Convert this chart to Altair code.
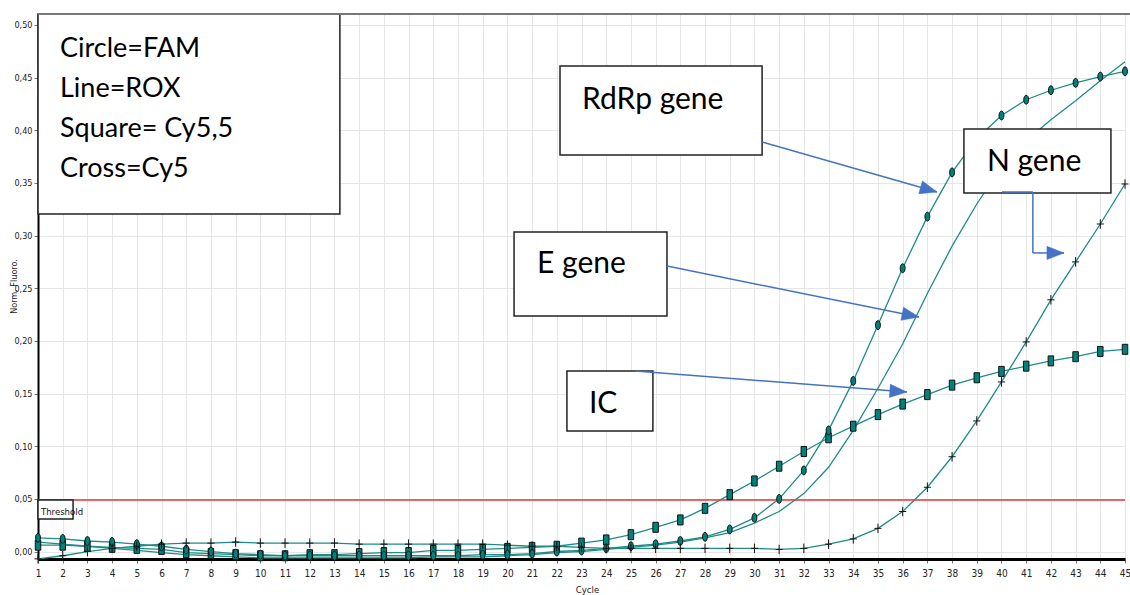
import altair as alt
import pandas as pd

# ---------------- data ----------------
cycles = list(range(1, 46))

fam_circle = [0.013, 0.012, 0.010, 0.009, 0.007, 0.005, 0.002, 0.000, -0.002, -0.003,
              -0.004, -0.004, -0.004, -0.004, -0.004, -0.004, -0.004, -0.004, -0.003, -0.003,
              -0.002, 0.000, 0.001, 0.003, 0.005, 0.007, 0.010, 0.014, 0.021, 0.032,
              0.050, 0.077, 0.115, 0.162, 0.215, 0.269, 0.318, 0.360, 0.392, 0.414,
              0.429, 0.438, 0.445, 0.451, 0.456]

rox_line = [0.009, 0.007, 0.005, 0.003, 0.001, -0.001, -0.003, -0.004, -0.005, -0.006,
            -0.006, -0.006, -0.006, -0.006, -0.006, -0.006, -0.005, -0.005, -0.005, -0.004,
            -0.003, -0.001, 0.000, 0.002, 0.004, 0.006, 0.009, 0.013, 0.018, 0.027,
            0.038, 0.055, 0.080, 0.115, 0.155, 0.197, 0.245, 0.290, 0.330, 0.365,
            0.390, 0.410, 0.428, 0.447, 0.465]

cy55_square = [0.006, 0.006, 0.005, 0.004, 0.003, 0.002, -0.001, -0.002, -0.003, -0.004,
               -0.004, -0.003, -0.003, -0.002, -0.001, -0.001, 0.001, 0.001, 0.002, 0.003,
               0.004, 0.005, 0.008, 0.011, 0.016, 0.023, 0.030, 0.041, 0.054, 0.067,
               0.081, 0.095, 0.108, 0.119, 0.130, 0.140, 0.149, 0.158, 0.165, 0.171,
               0.176, 0.181, 0.185, 0.190, 0.192]

cy5_cross = [-0.007, -0.004, 0.000, 0.003, 0.005, 0.007, 0.008, 0.008, 0.009, 0.008,
             0.008, 0.008, 0.008, 0.007, 0.007, 0.007, 0.007, 0.007, 0.007, 0.006,
             0.005, 0.005, 0.004, 0.003, 0.003, 0.003, 0.003, 0.003, 0.003, 0.003,
             0.002, 0.003, 0.007, 0.012, 0.022, 0.038, 0.061, 0.090, 0.124, 0.161,
             0.199, 0.239, 0.275, 0.311, 0.349]

threshold = [0.049]
y_ticks = [0.0, 0.05, 0.10, 0.15, 0.20, 0.25, 0.30, 0.35, 0.40, 0.45, 0.50]

legend_lines = ["Circle=FAM", "Line=ROX", "Square= Cy5,5", "Cross=Cy5"]
legend_cycle = [1.89, 1.89, 1.89, 1.89]
legend_value = [0.4696, 0.4316, 0.3936, 0.3556]
legend_box = {"x1": [1.0], "x2": [13.22], "y1": [0.5104], "y2": [0.3205]}

gene_labels = ["RdRp gene", "E gene", "IC", "N gene"]
label_cycle = [23.02, 21.20, 23.30, 39.41]
label_value = [0.4202, 0.2645, 0.1315, 0.3613]
box_x1 = [22.13, 20.27, 22.41, 38.48]
box_x2 = [30.31, 26.46, 25.89, 44.43]
box_y1 = [0.4610, 0.3034, 0.1714, 0.4012]
box_y2 = [0.3765, 0.2237, 0.1145, 0.3404]

seg_x1 = [30.31, 26.46, 25.17, 40.02, 41.27, 41.27]
seg_y1 = [0.3889, 0.2711, 0.1714, 0.3414, 0.3414, 0.2835]
seg_x2 = [37.39, 36.66, 36.17, 41.27, 41.27, 42.53]
seg_y2 = [0.3414, 0.2227, 0.1515, 0.3414, 0.2835, 0.2835]
head_x = [37.39, 36.66, 36.17, 42.53]
head_y = [0.3414, 0.2227, 0.1515, 0.2835]
head_angle = [16, 11, 4, 0]

thr_box = {"x1": [1.0], "x2": [2.42], "y1": [0.0489], "y2": [0.0309]}
thr_text = {"t": ["Threshold"], "x": [1.12], "y": [0.0347]}

# ---------------- styles ----------------
W, H = 1087, 545
TEAL_LINE = "#1f8c86"
TEAL_FILL = "#00817b"
BLUE = "#4472C4"
NARROW = "Liberation Sans Narrow, DejaVu Sans Condensed, Arial Narrow, sans-serif"
BOXFONT = "Lato, Carlito, Calibri, sans-serif"

xs = alt.Scale(domain=[1, 45], nice=False, zero=False)
ys = alt.Scale(domain=[-0.0071, 0.5104], nice=False, zero=False)

x_axis = alt.Axis(values=cycles, grid=True, gridColor="#e6e6e6", gridWidth=1,
                  domainColor="#000000", domainWidth=3, tickColor="#777777", tickSize=4,
                  labelFont=NARROW, labelFontSize=10, labelColor="#222222", labelPadding=5,
                  labelFlush=False, labelOverlap=False, format="d",
                  title="Cycle", titleFont=NARROW, titleFontSize=9.5,
                  titleFontWeight="normal", titleColor="#222222", titleY=33,
                  titleX=549, titleBaseline="alphabetic")
y_axis = alt.Axis(values=y_ticks, grid=True, gridColor="#e6e6e6", gridWidth=1,
                  domainColor="#000000", domainWidth=2, tickColor="#777777", tickSize=4,
                  labelFont=NARROW, labelFontSize=9, labelColor="#222222", labelPadding=2,
                  labelOverlap=False,
                  labelExpr="replace(format(datum.value, '.2f'), '.', ',')",
                  title="Norm. Fluoro.", titleFont=NARROW, titleFontSize=9,
                  titleFontWeight="normal", titleColor="#222222", titleAngle=-90,
                  titleX=-25, titleY=272, titleAlign="center", titleBaseline="middle")


def X(field):
    return alt.X(field, type="quantitative", scale=xs, axis=x_axis)


def Y(field):
    return alt.Y(field, type="quantitative", scale=ys, axis=y_axis)


series = pd.DataFrame({
    "cycle": cycles * 4,
    "value": fam_circle + rox_line + cy55_square + cy5_cross,
    "series": ["FAM"] * 45 + ["ROX"] * 45 + ["Cy5,5"] * 45 + ["Cy5"] * 45,
})

lines = alt.Chart(series).mark_line(color=TEAL_LINE, strokeWidth=1.3).encode(
    x=X("cycle"), y=Y("value"), detail="series:N",
)

thr = alt.Chart(pd.DataFrame({"t": threshold})).mark_rule(color="#e2393c", strokeWidth=1.5).encode(
    y=Y("t"), x=alt.value(0), x2=alt.value(W)
)

ELLIPSE = "M0,-1A0.55,1,0,1,1,0,1A0.55,1,0,1,1,0,-1Z"
RECT = "M-0.55,-1H0.55V1H-0.55Z"
PLUS = "M-0.75,0H0.75M0,-1V1"


def markers(name, shape, size, filled):
    d = series[series["series"] == name]
    if filled:
        mk = alt.Chart(d).mark_point(shape=shape, size=size, filled=True, fill=TEAL_FILL,
                                     stroke="#111111", strokeWidth=1, opacity=1)
    else:
        mk = alt.Chart(d).mark_point(shape=shape, size=size, filled=False,
                                     stroke="#111111", strokeWidth=1, opacity=1)
    return mk.encode(x=X("cycle"), y=Y("value"))


m_fam = markers("FAM", ELLIPSE, 80, True)
m_sq = markers("Cy5,5", RECT, 100, True)
m_cr = markers("Cy5", PLUS, 90, False)


def boxes(d, fill="white"):
    return alt.Chart(pd.DataFrame(d)).mark_rect(fill=fill, stroke="#222222", strokeWidth=1.5).encode(
        x=X("x1"), x2="x2:Q", y=Y("y1"), y2="y2:Q"
    )


legend_rect = boxes(legend_box)
gene_rects = boxes({"x1": box_x1, "x2": box_x2, "y1": box_y1, "y2": box_y2})
thr_rect = boxes(thr_box)

legend_text = alt.Chart(pd.DataFrame({"t": legend_lines, "x": legend_cycle, "y": legend_value})).mark_text(
    font=BOXFONT, fontSize=27, align="left", baseline="alphabetic", color="#000000"
).encode(x=X("x"), y=Y("y"), text="t:N")

gene_text = alt.Chart(pd.DataFrame({"t": gene_labels, "x": label_cycle, "y": label_value})).mark_text(
    font=BOXFONT, fontSize=30, align="left", baseline="alphabetic", color="#000000"
).encode(x=X("x"), y=Y("y"), text="t:N")

thr_label = alt.Chart(pd.DataFrame(thr_text)).mark_text(
    font=NARROW, fontSize=9.5, align="left", baseline="alphabetic", color="#111111"
).encode(x=X("x"), y=Y("y"), text="t:N")

arrows = alt.Chart(pd.DataFrame({"x1": seg_x1, "y1": seg_y1, "x2": seg_x2, "y2": seg_y2})).mark_rule(
    color=BLUE, strokeWidth=1.5
).encode(x=X("x1"), y=Y("y1"), x2="x2:Q", y2="y2:Q")

HEAD = "M0,0L-2,-0.78L-2,0.78Z"
heads = alt.Chart(pd.DataFrame({"x": head_x, "y": head_y, "a": head_angle})).mark_point(
    shape=HEAD, size=290, filled=True, fill=BLUE, stroke=BLUE, strokeWidth=0.5, opacity=1
).encode(x=X("x"), y=Y("y"), angle=alt.Angle("a:Q", scale=None))

top_border = alt.Chart(pd.DataFrame({"v": [0]})).mark_rule(color="#777777", strokeWidth=2).encode(
    y=alt.value(0), x=alt.value(0), x2=alt.value(W + 5)
)

chart = alt.layer(
    lines, thr, m_sq, m_fam, m_cr,
    legend_rect, legend_text, gene_rects, gene_text, thr_rect, thr_label,
    arrows, heads, top_border,
).properties(
    width=W, height=H,
    padding={"left": 38, "top": 14, "right": 5, "bottom": 36},
    autosize=alt.AutoSizeParams(type="none"),
    background="white",
).configure_view(stroke=None)

chart.save("out.html", embed_options={"renderer": "svg", "actions": False})
